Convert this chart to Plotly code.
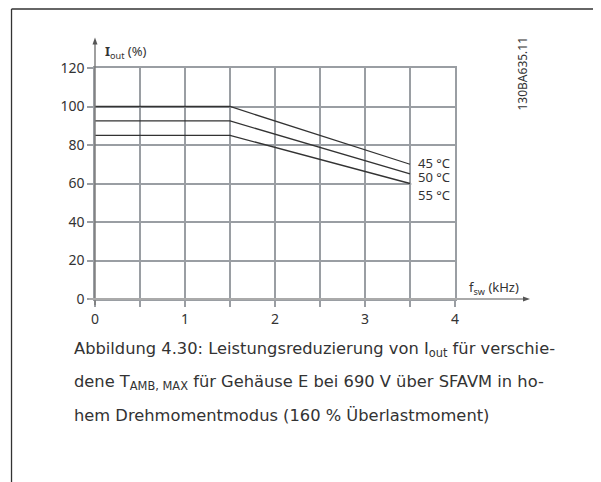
import plotly.graph_objects as go

# derating curves: output current vs switching frequency
freq_khz = [0, 1.5, 3.5]
iout_45 = [100, 100, 70]
iout_50 = [92.5, 92.5, 65]
iout_55 = [85, 85, 60]
series_names = ["45 °C", "50 °C", "55 °C"]
x_ticks = [0, 1, 2, 3, 4]
y_ticks = [0, 20, 40, 60, 80, 100, 120]
caption_lines = [
    "Abbildung 4.30: Leistungsreduzierung von I<sub>out</sub> für verschie-",
    "dene T<sub>AMB, MAX</sub> für Gehäuse E bei 690 V über SFAVM in ho-",
    "hem Drehmomentmodus (160 % Überlastmoment)",
]
drawing_id = "130BA635.11"

GRID = "#9a9ea3"
INK = "#333333"
LABEL_FONT = dict(family="Noto Sans", size=13, color=INK)

fig = go.Figure()
for ys in [iout_45, iout_50, iout_55]:
    fig.add_trace(go.Scatter(x=freq_khz, y=ys, mode="lines",
                             line=dict(color=INK, width=1.3),
                             showlegend=False, hoverinfo="skip"))

# white box behind the temperature labels (breaks the grid there)
fig.add_shape(type="rect", xref="x", yref="y", x0=3.515, x1=4.1, y0=50.5, y1=79.5,
              fillcolor="white", line=dict(width=0), layer="above")

# temperature labels next to the line ends
shifts = [1, -3, -11]
for name, ys, sh in zip(series_names, [iout_45, iout_50, iout_55], shifts):
    fig.add_annotation(x=3.57, y=ys[-1], text=name, showarrow=False,
                       xanchor="left", yanchor="middle", yshift=sh, font=LABEL_FONT)

# axis lines with arrow heads, in paper coords (1px = 1/360 in x, 1/231 in y)
fig.add_shape(type="line", xref="paper", yref="paper", x0=0, x1=0, y0=-0.026, y1=1.104,
              line=dict(color="#777777", width=1.4))
fig.add_shape(type="path", xref="paper", yref="paper",
              path="M 0 1.132 L 0.0069 1.1017 L -0.0069 1.1017 Z",
              fillcolor="#555555", line=dict(width=0))
fig.add_shape(type="line", xref="paper", yref="paper", x0=-0.0167, x1=1.1917, y0=0, y1=0,
              line=dict(color="#aaaaaa", width=2))
fig.add_shape(type="path", xref="paper", yref="paper",
              path="M 1.2083 0 L 1.1889 0.0108 L 1.1889 -0.0108 Z",
              fillcolor="#555555", line=dict(width=0))

# axis titles
fig.add_annotation(xref="paper", yref="paper", x=0.0222, y=1.0693,
                   text="<b>I</b><sub>out</sub> (%)", showarrow=False,
                   xanchor="left", yanchor="middle", font=LABEL_FONT)
fig.add_annotation(xref="paper", yref="paper", x=1.0333, y=0.0476,
                   text="f<sub>sw</sub> (kHz)", showarrow=False,
                   xanchor="left", yanchor="middle", font=LABEL_FONT)

# drawing number
fig.add_annotation(xref="paper", yref="paper", x=1.1889, y=0.976, text=drawing_id,
                   textangle=-90, showarrow=False, xanchor="center", yanchor="middle",
                   font=dict(family="Noto Sans", size=12, color=INK))

# caption
caption_y = [-0.2186, -0.3636, -0.5022]
for line, cy in zip(caption_lines, caption_y):
    fig.add_annotation(xref="paper", yref="paper", x=-0.0639, y=cy, text=line,
                       showarrow=False, xanchor="left", yanchor="middle",
                       font=dict(family="DejaVu Sans", size=16.3, color=INK))

# page frame
fig.add_shape(type="line", xref="paper", yref="paper", x0=-0.2319, x1=-0.2319,
              y0=1.2554, y1=-0.8, line=dict(color=INK, width=1.3))
fig.add_shape(type="line", xref="paper", yref="paper", x0=-0.2319, x1=1.41,
              y0=1.2554, y1=1.2554, line=dict(color=INK, width=1.3))

fig.update_xaxes(range=[0, 4], tickvals=x_ticks, showgrid=True, gridcolor=GRID, gridwidth=1.5,
                 ticks="outside", ticklen=6, tickcolor=GRID, tickwidth=1.5,
                 minor=dict(dtick=0.5, showgrid=True, gridcolor=GRID, gridwidth=1.5,
                            ticks="outside", ticklen=6, tickcolor=GRID, tickwidth=1.5),
                 showline=True, mirror=True, linecolor=GRID, linewidth=1.5,
                 zeroline=False, tickfont=dict(family="Noto Sans", size=14, color=INK),
                 fixedrange=True)
fig.update_yaxes(range=[0, 120], tickvals=y_ticks, showgrid=True, gridcolor=GRID, gridwidth=1.5,
                 ticks="outside", ticklen=6, tickcolor=GRID, tickwidth=1.5,
                 showline=True, mirror=True, linecolor=GRID, linewidth=1.5,
                 zeroline=False, tickfont=dict(family="Noto Sans", size=14, color=INK),
                 fixedrange=True)

# page has an 8px body margin, so the figure is 8px smaller than the window
fig.update_layout(width=593, height=474, margin=dict(l=87, r=146, t=60, b=183, pad=0),
                  paper_bgcolor="white", plot_bgcolor="white")

fig.write_html("out.html")
